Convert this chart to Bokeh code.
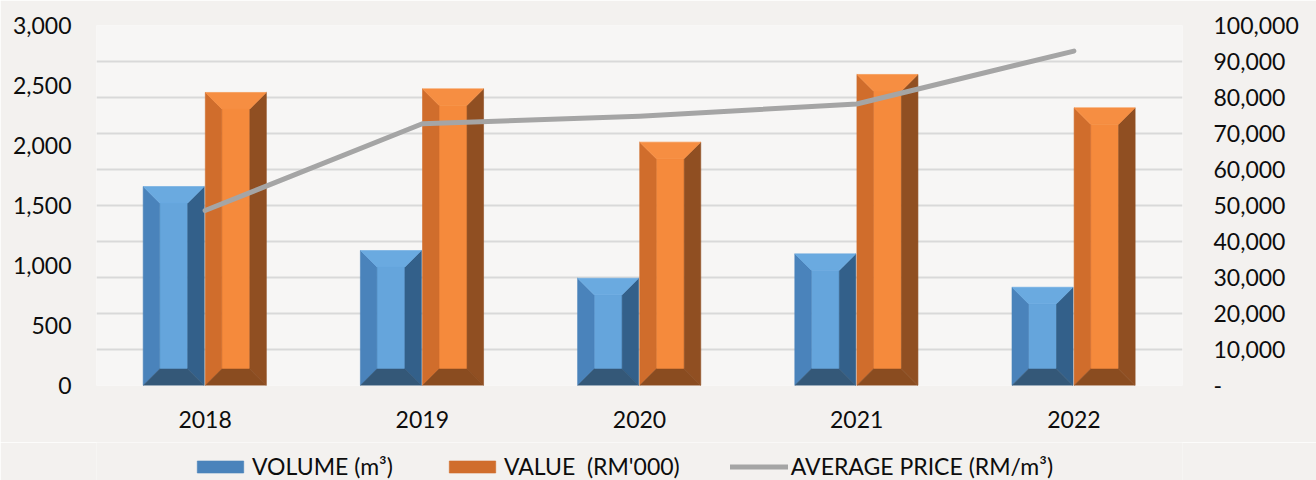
from bokeh.plotting import figure
from bokeh.layouts import column
from bokeh.models import (Range1d, LinearAxis, FixedTicker, NumeralTickFormatter,
                          Grid, Legend, LegendItem, ColumnDataSource)
from bokeh.embed import file_html
from bokeh.resources import INLINE

# ---- data ----
years = ["2018", "2019", "2020", "2021", "2022"]
volume = [1658, 1125, 894, 1097, 819]          # VOLUME (m³), left axis
value_rm = [2442, 2472, 2028, 2592, 2314]      # VALUE (RM'000), left axis
avg_price = [48600, 72700, 74800, 78200, 92900]  # AVERAGE PRICE (RM/m³), right axis

left_ticks = [0, 500, 1000, 1500, 2000, 2500, 3000]
right_ticks = [0, 10000, 20000, 30000, 40000, 50000, 60000, 70000, 80000, 90000, 100000]
series_labels = ["VOLUME (m³)", "VALUE  (RM'000)", "AVERAGE PRICE (RM/m³)"]

# ---- style ----
FONT = "Lato"
TXT = "#0d0d0d"
FS = "23px"
BAR_W = 0.281
DX = 0.076      # bevel inset (x units)
DY = 137.0      # bevel inset (left-axis units)
BG = "#f7f6f5"
BORDER = "#f3f1ef"
LINE_C = "#a5a5a5"

BLUE = dict(face="#65a5dc", left="#4a83bb", right="#33608a", top="#6aaae0", bottom="#345878")
ORANGE = dict(face="#f58a3c", left="#d06d2c", right="#904f22", top="#f68e42", bottom="#8a4c20")

x_idx = list(range(len(years)))


def bevel_source(heights, offset, pal):
    xs, ys, cols = [], [], []
    for i, h in zip(x_idx, heights):
        x0 = i + offset
        x1 = x0 + BAR_W
        # face
        xs.append([x0 + DX, x1 - DX, x1 - DX, x0 + DX]); ys.append([DY, DY, h - DY, h - DY]); cols.append(pal["face"])
        # left
        xs.append([x0, x0 + DX, x0 + DX, x0]); ys.append([0, DY, h - DY, h]); cols.append(pal["left"])
        # right
        xs.append([x1, x1, x1 - DX, x1 - DX]); ys.append([0, h, h - DY, DY]); cols.append(pal["right"])
        # top
        xs.append([x0, x1, x1 - DX, x0 + DX]); ys.append([h, h, h - DY, h - DY]); cols.append(pal["top"])
        # bottom
        xs.append([x0, x0 + DX, x1 - DX, x1]); ys.append([0, DY, DY, 0]); cols.append(pal["bottom"])
    return ColumnDataSource(dict(xs=xs, ys=ys, color=cols))


p = figure(frame_width=1086, frame_height=360, output_backend="svg", toolbar_location=None,
           x_range=Range1d(-0.5, 4.5), y_range=Range1d(0, 3000),
           min_border_left=96, min_border_right=134, min_border_top=25, min_border_bottom=57)
p.extra_y_ranges = {"price": Range1d(0, 100000)}
p.outline_line_color = None
p.background_fill_color = BG
p.border_fill_color = BORDER
p.xgrid.visible = False
p.ygrid.visible = False

grid = Grid(dimension=1, ticker=FixedTicker(ticks=right_ticks), y_range_name="price",
            grid_line_color="#d9d9d9", grid_line_width=2)
p.add_layout(grid)

src_v = bevel_source(volume, -0.285, BLUE)
src_o = bevel_source(value_rm, 0.001, ORANGE)
p.patches("xs", "ys", source=src_v, fill_color="color", line_color="color", line_width=0.6)
p.patches("xs", "ys", source=src_o, fill_color="color", line_color="color", line_width=0.6)
p.line(x_idx, avg_price, y_range_name="price", line_color=LINE_C, line_width=5,
       line_cap="round", line_join="round")

# left axis
ya = p.yaxis[0]
ya.ticker = FixedTicker(ticks=left_ticks)
ya.formatter = NumeralTickFormatter(format="0,0")

# right axis
ra = LinearAxis(y_range_name="price", ticker=FixedTicker(ticks=right_ticks),
                formatter=NumeralTickFormatter(format="0,0"),
                major_label_overrides={0: "-"})
p.add_layout(ra, "right")

# x axis
xa = p.xaxis[0]
xa.ticker = FixedTicker(ticks=x_idx)
xa.major_label_overrides = {i: y for i, y in zip(x_idx, years)}

for ax, standoff in ((ya, 25), (ra, 31), (xa, 25)):
    ax.axis_line_color = None
    ax.major_tick_line_color = None
    ax.minor_tick_line_color = None
    ax.major_tick_in = 0
    ax.major_tick_out = 0
    ax.minor_tick_in = 0
    ax.minor_tick_out = 0
    ax.major_label_text_font = FONT
    ax.major_label_text_font_size = FS
    ax.major_label_text_color = TXT
    ax.major_label_standoff = standoff

# ---- legend strip (a second, axis-free figure under the chart, frame aligned) ----
lg = figure(frame_width=1086, frame_height=40, output_backend="svg", toolbar_location=None,
            x_range=Range1d(0, 1), y_range=Range1d(-10, -9),
            x_axis_location=None, y_axis_location=None,
            min_border=0, min_border_left=96, min_border_right=134,
            min_border_top=0, min_border_bottom=0)
lg.outline_line_color = None
lg.background_fill_color = BORDER
lg.border_fill_color = BORDER
lg.xgrid.visible = False
lg.ygrid.visible = False
# same series renderers (out of this strip's view) used only as legend keys
lv = lg.patches("xs", "ys", source=src_v, fill_color="color", line_color="color", line_width=0.6)
lo = lg.patches("xs", "ys", source=src_o, fill_color="color", line_color="color", line_width=0.6)
ll = lg.line(x_idx, avg_price, line_color=LINE_C, line_width=5, line_cap="round")

legend = Legend(items=[
    LegendItem(label=series_labels[0], renderers=[lv], index=1),
    LegendItem(label=series_labels[1], renderers=[lo], index=1),
    LegendItem(label=series_labels[2], renderers=[ll]),
], orientation="horizontal", location=(95, 2))
legend.glyph_width = 58
legend.glyph_height = 15
legend.label_standoff = 3
legend.spacing = 50
legend.margin = 0
legend.padding = 0
legend.label_text_font = FONT
legend.label_text_font_size = FS
legend.label_text_color = TXT
legend.background_fill_alpha = 0
legend.border_line_color = None
lg.add_layout(legend)

layout = column(p, lg, spacing=0)
open("out.html", "w").write(file_html(layout, INLINE))
